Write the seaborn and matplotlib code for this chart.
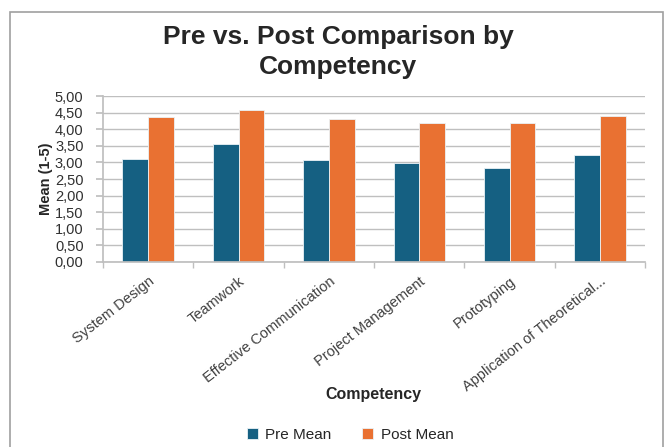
import pandas as pd
import matplotlib.pyplot as plt
import seaborn as sns
from matplotlib.patches import Rectangle
from matplotlib.ticker import FuncFormatter

competencies = ['System Design', 'Teamwork', 'Effective Communication',
                'Project Management', 'Prototyping', 'Application of Theoretical...']
pre_mean = [3.10, 3.55, 3.08, 2.99, 2.83, 3.23]
post_mean = [4.37, 4.58, 4.30, 4.19, 4.18, 4.39]

df = pd.DataFrame({
    'Competency': competencies * 2,
    'Mean': pre_mean + post_mean,
    'Series': ['Pre Mean'] * len(competencies) + ['Post Mean'] * len(competencies),
})

sns.set_theme(style="white")
plt.rcParams['font.family'] = ['Liberation Sans', 'DejaVu Sans']

fig = plt.figure(figsize=(6.67, 4.47), dpi=100)
ax = fig.add_axes([0.1544, 0.414, 0.813, 0.371])

sns.barplot(data=df, x='Competency', y='Mean', hue='Series',
            palette={'Pre Mean': '#156082', 'Post Mean': '#E97132'},
            saturation=1, width=0.57, gap=0.0, ax=ax, legend=True,
            edgecolor='#EAF2F6', linewidth=0.6)

grid_col = '#BFBFBF'
ax.set_ylim(0, 5)
ax.set_yticks([i * 0.5 for i in range(11)])
ax.yaxis.set_major_formatter(FuncFormatter(lambda v, p: f'{v:.2f}'.replace('.', ',')))
ax.yaxis.grid(True, color=grid_col, linewidth=1)
ax.set_axisbelow(True)
for s in ['top', 'right']:
    ax.spines[s].set_visible(False)
ax.spines['bottom'].set_color(grid_col)
ax.spines['left'].set_color(grid_col)
ax.set_xlim(-0.5, len(competencies) - 0.5)
ax.set_xticks([i - 0.5 for i in range(len(competencies) + 1)], minor=True)
ax.tick_params(axis='x', which='minor', bottom=True, length=4, color=grid_col)
ax.tick_params(axis='x', which='major', bottom=False, pad=3)
ax.tick_params(axis='y', left=True, labelsize=10.5, pad=9, length=5, color=grid_col)
ax.set_xticks(range(len(competencies)))
ax.set_xticklabels(competencies, rotation=38, ha='right', rotation_mode='anchor',
                   fontsize=10.5, color='#404040')
for t in ax.get_yticklabels():
    t.set_color('#303030')

ax.set_ylabel('Mean (1-5)', fontsize=10.5, fontweight='bold', labelpad=1)
ax.set_xlabel('')
fig.text(0.56, 0.108, 'Competency', ha='center', fontsize=11.5, fontweight='bold')

fig.text(0.507, 0.884, 'Pre vs. Post Comparison by\nCompetency', ha='center', va='center',
         fontsize=19, fontweight='bold', linespacing=1.3)

handles, labels = ax.get_legend_handles_labels()
ax.get_legend().remove()
fig.legend(handles, labels, loc='center', bbox_to_anchor=(0.525, 0.027), ncol=2,
           frameon=False, fontsize=11, handlelength=0.7, handleheight=0.7,
           columnspacing=2.0, handletextpad=0.5)

fig.patches.append(Rectangle((0.015, -0.01), 0.979, 0.983, transform=fig.transFigure,
                             fill=False, edgecolor='#A0A0A0', linewidth=1.2))

fig.savefig('out.png', dpi=100)
